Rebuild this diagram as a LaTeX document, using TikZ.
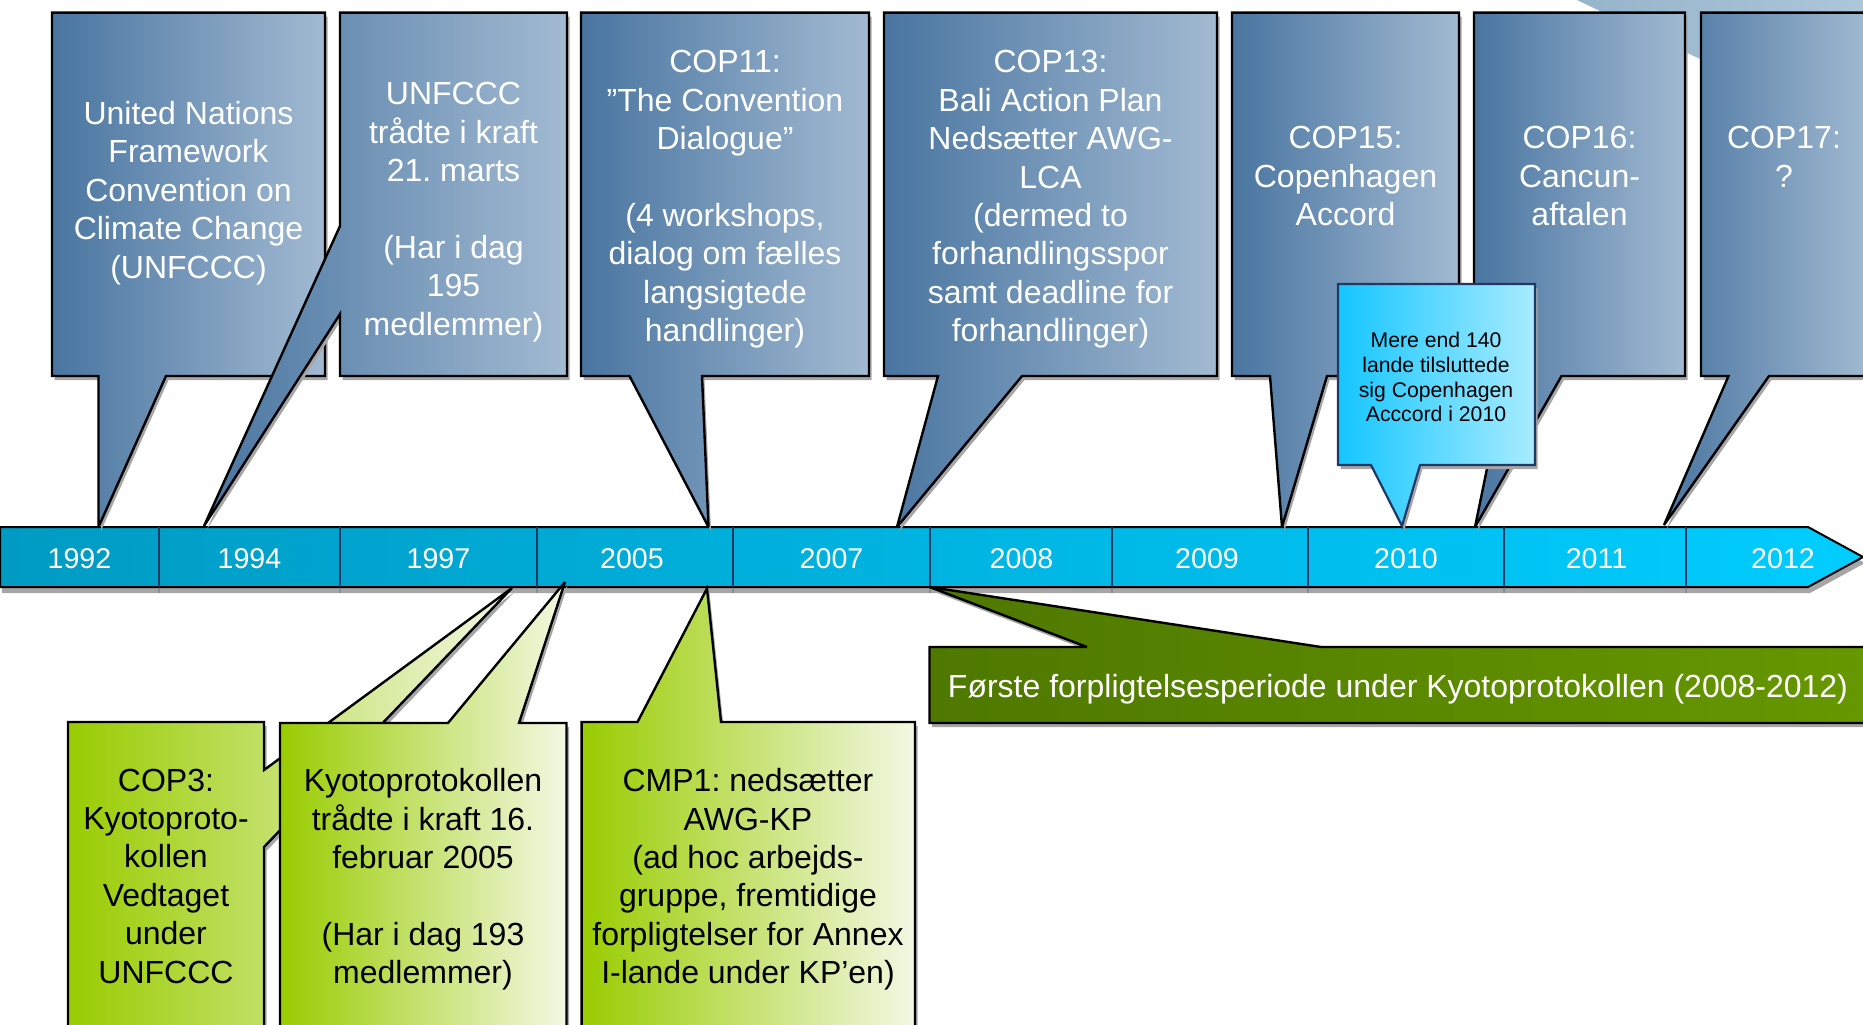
\documentclass[tikz,border=0pt]{standalone}
\usepackage{fontspec}
\setmainfont{Liberation Sans}
\frenchspacing
\definecolor{blueL}{RGB}{73,117,160}
\definecolor{blueR}{RGB}{162,186,210}
\definecolor{tlL}{RGB}{0,155,195}
\definecolor{tlR}{RGB}{0,205,255}
\definecolor{cyL}{RGB}{20,198,255}
\definecolor{cyR}{RGB}{168,236,255}
\definecolor{grL}{RGB}{153,204,0}
\definecolor{grR}{RGB}{243,248,228}
\definecolor{dgL}{RGB}{78,120,0}
\definecolor{dgR}{RGB}{103,153,0}
\definecolor{navy}{RGB}{31,56,100}
\definecolor{shadowc}{RGB}{166,166,166}
\definecolor{bgL}{RGB}{150,180,202}
\definecolor{bgR}{RGB}{175,200,220}
\tikzset{
  bluecall/.style={left color=blueL,right color=blueR,draw=black,line width=1.2pt,line join=miter,miter limit=4},
  greencall/.style={left color=grL,right color=grR,draw=black,line width=1.2pt,line join=miter,miter limit=4},
  cyancall/.style={left color=cyL,right color=cyR,draw=navy,line width=1.1pt,line join=miter,miter limit=4},
  darkcall/.style={left color=dgL,right color=dgR,draw=black,line width=1.2pt,line join=miter,miter limit=4},
  timeline/.style={left color=tlL,right color=tlR,draw=black,line width=1pt,line join=miter},
  divider/.style={draw=navy,line width=0.8pt},
  wtxt/.style={text=white,align=center,inner sep=0pt,font=\fontsize{16}{19.2}\selectfont},
  btxt/.style={text=black,align=center,inner sep=0pt,font=\fontsize{16}{19.2}\selectfont},
  ctxt/.style={text=black,align=center,inner sep=0pt,font=\fontsize{10.6}{12.45}\selectfont},
  ytxt/.style={text=white,anchor=base,inner sep=0pt,font=\fontsize{14.3}{17}\selectfont},
}
\newcommand\shapeshadow[2]{%
  \fill[shadowc,xshift=1.25pt,yshift=-2pt] #2;
  \shadedraw[#1] #2;}
\begin{document}
\begin{tikzpicture}[x=0.5pt,y=-0.5pt]
\useasboundingbox (0,0) rectangle (1863,1024);
\clip (0,0) rectangle (1863,1024);
% background shape top right
\shade[left color=bgL,right color=bgR] (1577,0) -- (1900,0) -- (1900,155) -- cycle;

% timeline
\fill[shadowc] (2,533) -- (1810,533) -- (1865,563) -- (1810,593) -- (2,593) -- cycle;
\shadedraw[timeline] (0,527) -- (1808,527) -- (1863,557) -- (1808,587) -- (0,587) -- cycle;
\foreach \xx in {159,340,537,733,930,1112,1308,1504,1686}{
  \draw[divider] (\xx,527) -- (\xx,587);
  \draw[draw=black!45,line width=0.8pt] (\xx,588) -- (\xx,593);
}
\node[ytxt] (y1992) at (79.5,568) {1992};
\node[ytxt] (y1994) at (249.5,568) {1994};
\node[ytxt] (y1997) at (438.5,568) {1997};
\node[ytxt] (y2005) at (632,568) {2005};
\node[ytxt] (y2007) at (831.5,568) {2007};
\node[ytxt] (y2008) at (1021.5,568) {2008};
\node[ytxt] (y2009) at (1207,568) {2009};
\node[ytxt] (y2010) at (1406,568) {2010};
\node[ytxt] (y2011) at (1596.5,568) {2011};
\node[ytxt] (y2012) at (1783,568) {2012};

% blue callouts
\shapeshadow{bluecall}{(52,12.6) -- (325,12.6) -- (325,376) -- (166,376) -- (98.5,527) -- (98.5,376) -- (52,376) -- cycle}
\shapeshadow{bluecall}{(340,12.6) -- (567,12.6) -- (567,376) -- (340,376) -- (340,314) -- (204,526) -- (340,226) -- cycle}
\shapeshadow{bluecall}{(581,12.6) -- (869,12.6) -- (869,376) -- (702,376) -- (708.5,527) -- (629.5,376) -- (581,376) -- cycle}
\shapeshadow{bluecall}{(884,12.6) -- (1217,12.6) -- (1217,376) -- (1022,376) -- (897,527) -- (938,376) -- (884,376) -- cycle}
\shapeshadow{bluecall}{(1232,12.6) -- (1459,12.6) -- (1459,376) -- (1327,376) -- (1282,527) -- (1270,376) -- (1232,376) -- cycle}
\shapeshadow{bluecall}{(1474,12.6) -- (1685,12.6) -- (1685,376) -- (1561.5,376) -- (1475,527) -- (1506,376) -- (1474,376) -- cycle}
\shapeshadow{bluecall}{(1701,12.6) -- (1870,12.6) -- (1870,376) -- (1769,376) -- (1664,525) -- (1728.5,376) -- (1701,376) -- cycle}

\node[wtxt] (unfccc) at (188.5,193) {United Nations\\Framework\\Convention on\\Climate Change\\(UNFCCC)};
\node[wtxt] (kraft) at (453.5,212) {UNFCCC\\trådte i kraft\\21. marts\\[19.2pt](Har i dag\\195\\medlemmer)};
\node[wtxt] (cop11) at (725,199.5) {COP11:\\”The Convention\\Dialogue”\\[19.2pt](4 workshops,\\dialog om fælles\\langsigtede\\handlinger)};
\node[wtxt] (cop13) at (1050.5,199.5) {COP13:\\Bali Action Plan\\Nedsætter AWG-\\LCA\\(dermed to\\forhandlingsspor\\samt deadline for\\forhandlinger)};
\node[wtxt] (cop15) at (1345.5,176) {COP15:\\Copenhagen\\Accord};
\node[wtxt] (cop16) at (1579.5,176) {COP16:\\Cancun-\\aftalen};
\node[wtxt] (cop17) at (1784,157) {COP17:\\?};

% cyan callout
\shapeshadow{cyancall}{(1338,284) -- (1535,284) -- (1535,465) -- (1420,465) -- (1402,526) -- (1371,465) -- (1338,465) -- cycle}
\node[ctxt] (accord) at (1436,377) {Mere end 140\\lande tilsluttede\\sig Copenhagen\\Acccord i 2010};

% green callouts
\shapeshadow{greencall}{(68,722) -- (264,722) -- (264,770) -- (512,588) -- (264,847) -- (264,1040) -- (68,1040) -- cycle}
\shapeshadow{greencall}{(280,723) -- (448,723) -- (565,582) -- (519,723) -- (566.5,723) -- (566.5,1040) -- (280,1040) -- cycle}
\shapeshadow{greencall}{(581.6,722) -- (637.5,722) -- (707,588.5) -- (721,722) -- (915,722) -- (915,1040) -- (581.6,1040) -- cycle}
\node[btxt] (cop3) at (166,876) {COP3:\\Kyotoproto-\\kollen\\Vedtaget\\under\\UNFCCC};
\node[btxt] (kyoto) at (423,879.4) {Kyotoprotokollen\\trådte i kraft 16.\\februar 2005\\[19.2pt](Har i dag 193\\medlemmer)};
\node[btxt] (cmp1) at (748,879.4) {CMP1: nedsætter\\AWG-KP\\(ad hoc arbejds-\\gruppe, fremtidige\\forpligtelser for Annex\\I-lande under KP’en)};

% dark green callout
\shapeshadow{darkcall}{(929.5,647) -- (1087,647) -- (929.5,587) -- (1321,647) -- (1900,647) -- (1900,723) -- (929.5,723) -- cycle}
\node[wtxt,anchor=base] (periode) at (1398,697) {Første forpligtelsesperiode under Kyotoprotokollen (2008-2012)};
\end{tikzpicture}
\end{document}
